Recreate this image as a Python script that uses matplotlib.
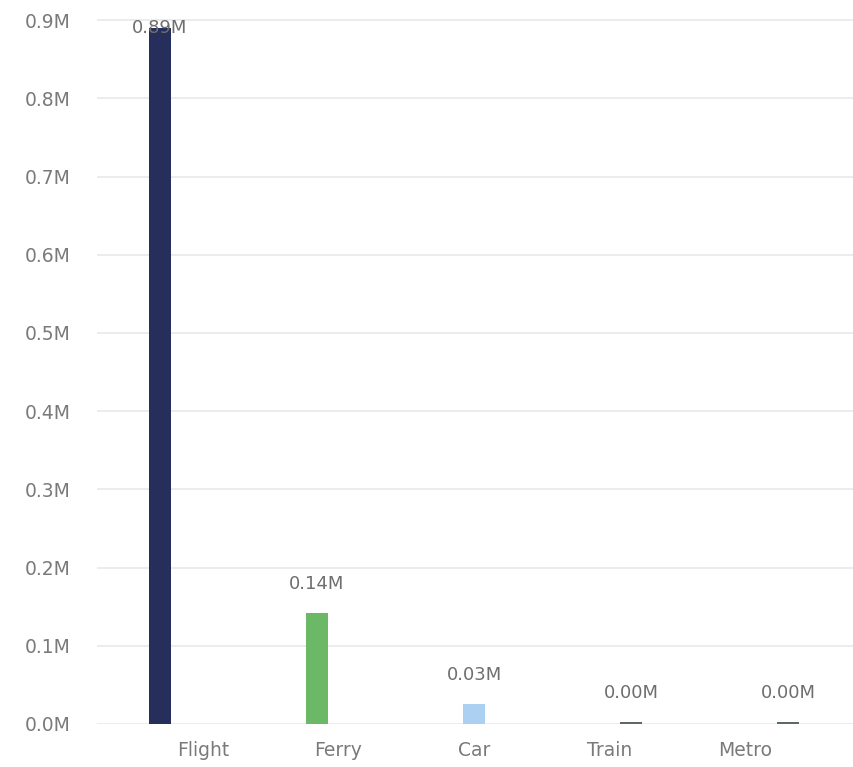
import numpy as np
import matplotlib
matplotlib.use("Agg")
import matplotlib.pyplot as plt

# trips by transport mode, in millions
modes = ["Flight", "Ferry", "Car", "Train", "Metro"]
trips = [0.89, 0.142, 0.026, 0.003, 0.003]
colors = ["#262f5b", "#6bb866", "#acd0f2", "#5c6b68", "#5c6b68"]
y_ticks = [0.0, 0.1, 0.2, 0.3, 0.4, 0.5, 0.6, 0.7, 0.8, 0.9]

plt.rcParams['font.family'] = ['DejaVu Sans']

fig = plt.figure(figsize=(8.54, 7.67), dpi=100)
ax = fig.add_axes([0.1136, 0.0561, 0.8864, 0.9309])

x = np.arange(len(modes))
ax.bar(x, trips, width=0.135, color=colors, zorder=3)

ymax = 0.913
for xi, v in zip(x, trips):
    txt = "%.2fM" % v
    if v + 0.04 > ymax:
        ax.text(xi, v, txt, ha="center", va="center", fontsize=13,
                color="#6e6e6e", zorder=4)
    else:
        ax.annotate(txt, (xi, v), xytext=(0, 14), textcoords="offset points",
                    ha="center", va="bottom", fontsize=13, color="#6e6e6e")

# category labels sit on their own spacing under the bars
ax.set_xticks(0.274 + 0.863 * x)
ax.set_xticklabels(modes)
ax.set_yticks(y_ticks)
ax.set_yticklabels(["%.1fM" % t for t in y_ticks])

ax.set_xlim(-0.401, 4.42)
ax.set_ylim(0, ymax)
ax.grid(axis="y", color="#e9e9e9", linewidth=1.2, zorder=0)
ax.tick_params(axis="both", length=0, labelsize=13.5, colors="#7a7a7a")
ax.tick_params(axis="y", pad=19)
ax.tick_params(axis="x", pad=12)
for s in ax.spines.values():
    s.set_visible(False)

fig.savefig("out.png", dpi=100)
